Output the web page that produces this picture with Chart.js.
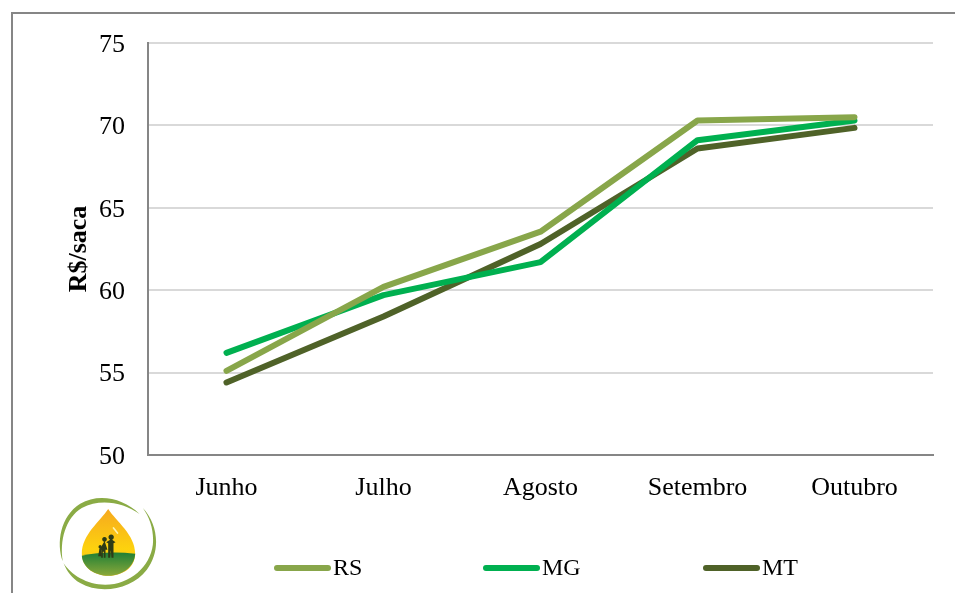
<!DOCTYPE html>
<html>
<head>
<meta charset="utf-8">
<style>
  html, body { margin: 0; padding: 0; background: #fff; overflow: hidden; }
  #wrap { position: relative; width: 955px; height: 593px; }
  #frame { position: absolute; left: 11px; top: 12px; width: 960px; height: 600px; border: 2px solid #868686; box-sizing: border-box; }
  #chart { position: absolute; left: 0; top: 0; }
  #logo { position: absolute; left: 55px; top: 493px; }
</style>
</head>
<body>
<div id="wrap">
  <div id="frame"></div>
  <canvas id="chart" width="955" height="593"></canvas>
  <!-- logo, traced from the 3x crop so coordinates are crop pixels -->
  <svg id="logo" width="107" height="100" viewBox="165 40 320 300">
    <defs>
      <linearGradient id="drop" x1="0" y1="0" x2="0" y2="1">
        <stop offset="0" stop-color="#f6a91f"/>
        <stop offset="0.6" stop-color="#fdd20e"/>
        <stop offset="1" stop-color="#f5b81c"/>
      </linearGradient>
      <linearGradient id="field" x1="0" y1="0" x2="0" y2="1">
        <stop offset="0" stop-color="#1f7f35"/>
        <stop offset="1" stop-color="#8aa83a"/>
      </linearGradient>
    </defs>
    <path d="M188 245 C168 190 180 110 240 72 C295 40 370 55 418 103 C370 68 300 55 245 85 C195 115 178 185 188 245 Z" fill="#8aab45"/>
    <path d="M428 85 C475 135 482 215 440 270 C395 330 300 345 240 310 C215 296 200 275 190 250 C212 285 260 315 315 315 C390 315 450 260 458 195 C462 155 450 115 428 85 Z" fill="#8aab45"/>
    <path d="M324 88 C300 125 245 165 245 222 C245 265 285 288 325 288 C365 288 405 265 405 222 C405 165 348 125 324 88 Z" fill="url(#drop)"/>
    <path d="M245 228 C290 218 350 215 405 222 C403 262 365 288 325 288 C285 288 248 265 245 228 Z" fill="url(#field)"/>
    <path d="M330 180 a8 8 0 1 1 6 0 l10 8 -6 3 0 43 -6 0 -2 -22 -2 22 -6 0 0 -43 -6 -3 Z" fill="#2d3b16"/>
    <path d="M312 186 a7 7 0 1 1 2 0 l8 24 -6 0 0 24 -5 0 0 -18 -3 0 0 18 -5 0 0 -24 -5 0 Z" fill="#2d3b16"/>
    <path d="M298 206 a5 5 0 1 1 4 0 l2 24 -10 0 Z" fill="#2d3b16"/>
    <path d="M340 145 L352 160" stroke="#fff3b0" stroke-width="5" stroke-linecap="round"/>
  </svg>
</div>
<script src="https://cdn.jsdelivr.net/npm/chart.js@4"></script>
<script>
'use strict';
const categories = ['Junho', 'Julho', 'Agosto', 'Setembro', 'Outubro'];
const rsValues = [55.1, 60.2, 63.55, 70.3, 70.5];
const mgValues = [56.2, 59.7, 61.7, 69.1, 70.3];
const mtValues = [54.4, 58.4, 62.8, 68.6, 69.85];
const yTicks = [50, 55, 60, 65, 70, 75];

const SERIF = '"Liberation Serif", "Times New Roman", serif';

/* ─── Legend along the bottom: line sample plus label ─── */
const legendStarts = [275, 484, 704];
const bottomLegend = {
  id: 'bottomLegend',
  afterDraw(chart) {
    const ctx = chart.ctx;
    const y = 568;
    ctx.save();
    chart.data.datasets.forEach((ds, i) => {
      const x = legendStarts[i];
      ctx.strokeStyle = ds.borderColor;
      ctx.lineWidth = 6;
      ctx.lineCap = 'round';
      ctx.beginPath();
      ctx.moveTo(x + 2, y);
      ctx.lineTo(x + 53, y);
      ctx.stroke();
      ctx.fillStyle = '#000';
      ctx.font = '24px ' + SERIF;
      ctx.textBaseline = 'middle';
      ctx.textAlign = 'left';
      ctx.fillText(ds.label, x + 58, y + 1);
    });
    ctx.restore();
  }
};

function line(label, data, color) {
  return {
    label, data,
    borderColor: color,
    backgroundColor: color,
    borderWidth: 6,
    borderCapStyle: 'round',
    borderJoinStyle: 'round',
    pointRadius: 0,
    tension: 0,
    fill: false
  };
}

new Chart(document.getElementById('chart'), {
  type: 'line',
  data: {
    labels: categories,
    datasets: [
      line('RS', rsValues, '#88a64a'),
      line('MG', mgValues, '#00b050'),
      line('MT', mtValues, '#4f6228')
    ]
  },
  options: {
    responsive: false,
    animation: false,
    layout: { padding: { left: 64, right: 22, top: 43, bottom: 0 } },
    plugins: { legend: { display: false }, tooltip: { enabled: false } },
    scales: {
      x: {
        offset: true,
        afterFit(s) { s.height = 138; },
        grid: { display: false, drawTicks: false },
        border: { color: '#868686', width: 2 },
        ticks: { color: '#000', font: { family: SERIF, size: 26 }, padding: 18, maxRotation: 0, autoSkip: false }
      },
      y: {
        min: 50,
        max: 75,
        afterFit(s) { s.width = 84; },
        afterBuildTicks(s) { s.ticks = yTicks.map(v => ({ value: v })); },
        grid: { color: '#d9d9d9', lineWidth: 2, drawTicks: false },
        border: { color: '#868686', width: 2 },
        ticks: { color: '#000', font: { family: SERIF, size: 26 }, padding: 23, labelOffset: 2 },
        title: {
          display: true,
          text: 'R$/saca',
          color: '#000',
          font: { family: SERIF, size: 26, weight: 'bold' },
          padding: 0
        }
      }
    }
  },
  plugins: [bottomLegend]
});
</script>
</body>
</html>
